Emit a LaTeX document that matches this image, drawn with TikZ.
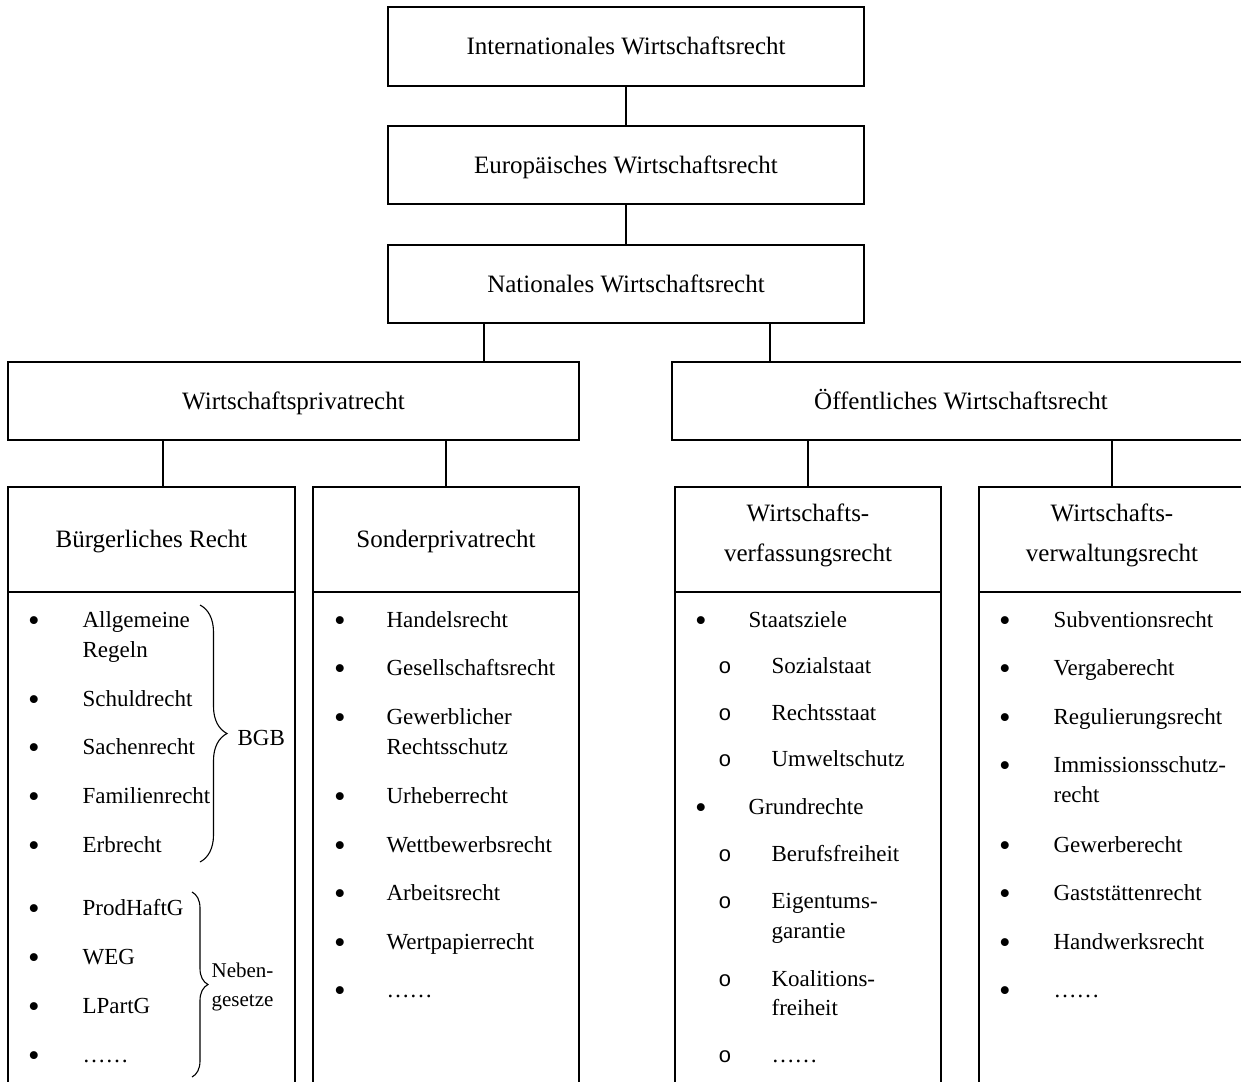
\documentclass[tikz,border=0pt]{standalone}
\usepackage{fontspec}
\setmainfont{Liberation Serif}
\newfontfamily\circfont{Liberation Mono}
\usetikzlibrary{decorations.pathreplacing}

\begin{document}
\begin{tikzpicture}[x=1pt,y=-1pt,
  line width=1.2pt,
  box/.style={draw, rectangle, inner sep=0pt, line width=1.2pt,
    font=\fontsize{25}{30}\selectfont, text height=18pt, text depth=2pt},
  panel/.style={draw, rectangle, inner sep=0pt, line width=1.2pt},
  headtxt/.style={inner sep=0pt, align=center, font=\fontsize{25}{40}\selectfont},
  item/.style={anchor=base west, inner sep=0pt, font=\fontsize{23}{30}\selectfont},
  bul/.style={anchor=base, inner sep=0pt, yshift=-4pt, font=\fontsize{33}{30}\selectfont},
  circ/.style={anchor=base, inner sep=0pt, font=\fontsize{22}{30}\circfont},
  side/.style={anchor=base west, inner sep=0pt, font=\fontsize{21}{30}\selectfont},
  brc/.style={decorate, line width=1.1pt},
  conn/.style={line width=1.2pt}
]
\useasboundingbox (0,0) rectangle (1241,1081);
\clip (0,0) rectangle (1241,1081);

% --- levels of economic law ---
\node[box, minimum width=476pt, minimum height=79pt] (intl) at (626,46.5) {Internationales Wirtschaftsrecht};
\node[box, minimum width=476pt, minimum height=78pt] (euro) at (626,165) {Europäisches Wirtschaftsrecht};
\node[box, minimum width=476pt, minimum height=78pt] (natl) at (626,284) {Nationales Wirtschaftsrecht};

\node[box, minimum width=571pt, minimum height=78pt] (wpriv) at (293.5,401) {Wirtschaftsprivatrecht};
\node[box, minimum width=578pt, minimum height=78pt] (oeff) at (961,401) {Öffentliches Wirtschaftsrecht};

% --- column heads ---
\node[box, minimum width=287pt, minimum height=105pt] (buergH) at (151.5,539.5) {Bürgerliches Recht};
\node[box, minimum width=266pt, minimum height=105pt] (sonderH) at (446,539.5) {Sonderprivatrecht};
\node[panel, minimum width=266pt, minimum height=105pt] (verfH) at (808,539.5) {};
\node[panel, minimum width=266pt, minimum height=105pt] (verwH) at (1112,539.5) {};
\node[headtxt] (verfT) at (808,535) {Wirtschafts-\\verfassungsrecht};
\node[headtxt] (verwT) at (1112,535) {Wirtschafts-\\verwaltungsrecht};

% --- column bodies (run past the lower edge) ---
\node[panel, minimum width=287pt, minimum height=508pt] (buergB) at (151.5,846) {};
\node[panel, minimum width=266pt, minimum height=508pt] (sonderB) at (446,846) {};
\node[panel, minimum width=266pt, minimum height=508pt] (verfB) at (808,846) {};
\node[panel, minimum width=266pt, minimum height=508pt] (verwB) at (1112,846) {};

% --- connectors ---
\coordinate (xa) at (484,0);
\coordinate (xb) at (770,0);
\coordinate (xc) at (163,0);
\draw[conn] (intl.south) -- (euro.north);
\draw[conn] (euro.south) -- (natl.north);
\draw[conn] (natl.south -| xa) -- (wpriv.north -| xa);
\draw[conn] (natl.south -| xb) -- (oeff.north -| xb);
\draw[conn] (wpriv.south -| xc) -- (buergH.north -| xc);
\draw[conn] (wpriv.south -| sonderH.north) -- (sonderH.north);
\draw[conn] (oeff.south -| verfH.north) -- (verfH.north);
\draw[conn] (oeff.south -| verwH.north) -- (verwH.north);

% --- Bürgerliches Recht ---
\foreach \yy/\lbl [count=\i] in {627/Allgemeine, 657/Regeln, 706/Schuldrecht, 754/Sachenrecht,
    803/Familienrecht, 852/Erbrecht, 915/ProdHaftG, 964/WEG, 1013/LPartG, 1062/……}
  \node[item] (bt\i) at (82,\yy) {\lbl};
\foreach \yy [count=\i] in {627,706,754,803,852,915,964,1013,1062}
  \node[bul] (bb\i) at (34,\yy) {•};
\coordinate (bgbTop) at (200,605);
\coordinate (bgbBot) at (200,862);
\draw[brc, decoration={brace, amplitude=27pt}] (bgbTop) -- (bgbBot);
\node[item] (bgb) at (237,745) {BGB};
\coordinate (nebTop) at (192,892);
\coordinate (nebBot) at (192,1077);
\draw[brc, decoration={brace, amplitude=16pt}] (nebTop) -- (nebBot);
\node[side] (neb1) at (211,977) {Neben-};
\node[side] (neb2) at (211,1006) {gesetze};

% --- Sonderprivatrecht ---
\foreach \yy/\lbl [count=\i] in {627/Handelsrecht, 675/Gesellschaftsrecht, 724/Gewerblicher,
    754/Rechtsschutz, 803/Urheberrecht, 852/Wettbewerbsrecht, 900/Arbeitsrecht,
    949/Wertpapierrecht, 997/……}
  \node[item] (st\i) at (386,\yy) {\lbl};
\foreach \yy [count=\i] in {627,675,724,803,852,900,949,997}
  \node[bul] (sb\i) at (340,\yy) {•};

% --- Wirtschaftsverfassungsrecht ---
\node[item] (vf1) at (748,627) {Staatsziele};
\node[item] (vf2) at (771,673) {Sozialstaat};
\node[item] (vf3) at (771,720) {Rechtsstaat};
\node[item] (vf4) at (771,766) {Umweltschutz};
\node[item] (vf5) at (748,814) {Grundrechte};
\node[item] (vf6) at (771,861) {Berufsfreiheit};
\node[item] (vf7) at (771,908) {Eigentums-};
\node[item] (vf8) at (771,938) {garantie};
\node[item] (vf9) at (771,986) {Koalitions-};
\node[item] (vf10) at (771,1015) {freiheit};
\node[item] (vf11) at (771,1062) {……};
\foreach \yy [count=\i] in {627,814}
  \node[bul] (vb\i) at (701,\yy) {•};
\foreach \yy [count=\i] in {673,720,766,861,908,986,1062}
  \node[circ] (vc\i) at (725,\yy) {o};

% --- Wirtschaftsverwaltungsrecht ---
\foreach \yy/\lbl [count=\i] in {627/Subventionsrecht, 675/Vergaberecht, 724/Regulierungsrecht,
    772/Immissionsschutz-, 802/recht, 852/Gewerberecht, 900/Gaststättenrecht,
    949/Handwerksrecht, 997/……}
  \node[item] (wt\i) at (1053,\yy) {\lbl};
\foreach \yy [count=\i] in {627,675,724,772,852,900,949,997}
  \node[bul] (wb\i) at (1005,\yy) {•};
\end{tikzpicture}
\end{document}
